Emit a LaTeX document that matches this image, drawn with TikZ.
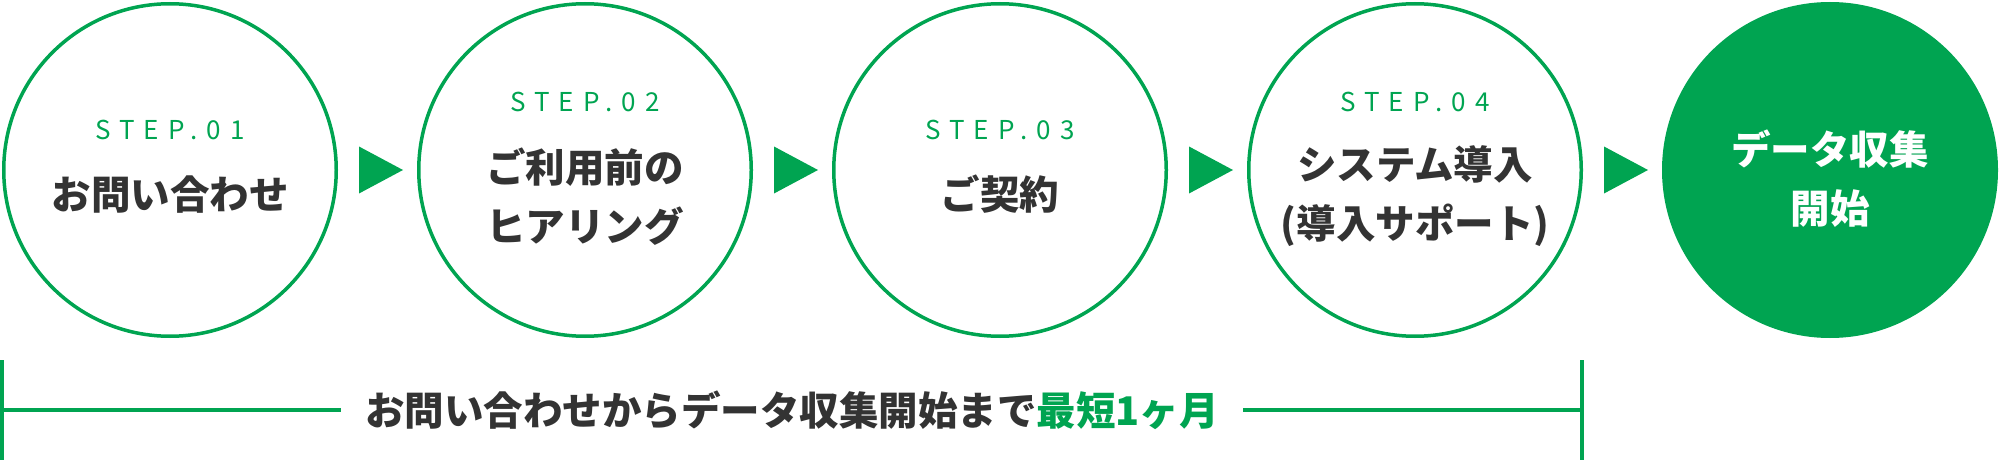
\documentclass[tikz,border=0pt]{standalone}
\usepackage{fontspec}
\setmainfont{Noto Sans CJK JP}
\newfontfamily\stepfont[LetterSpace=35]{Noto Sans CJK JP}
\usetikzlibrary{positioning}

\definecolor{stepgreen}{HTML}{00A451}
\definecolor{darktext}{HTML}{333333}

\begin{document}
\begin{tikzpicture}[x=0.5pt,y=-0.5pt,node distance=207.5pt,
  main node/.style={circle,draw=stepgreen,line width=1.75pt,minimum size=166.25pt,inner sep=0pt},
  goal node/.style={main node,fill=stepgreen},
  step label/.style={text=stepgreen,font=\stepfont\fontsize{13pt}{13pt}\selectfont,inner sep=0pt},
  step text/.style={text=darktext,font=\bfseries\fontsize{19.75pt}{29.5pt}\selectfont,align=center,inner sep=0pt},
  goal text/.style={step text,text=white},
  bracket/.style={draw=stepgreen,line width=1.75pt}]

  \useasboundingbox (0,0) rectangle (2002,460);

  \node[main node] (1) at (170,170) {};
  \node[main node] (2) [right of=1] {};
  \node[main node] (3) [right of=2] {};
  \node[main node] (4) [right of=3] {};
  \node[goal node] (5) [right of=4] {};

  % step labels and texts
  \node[step label,yshift=20.25pt] (s1) at (1) {STEP.01};
  \node[step text,yshift=-12.25pt] (t1) at (1) {お問い合わせ};
  \node[step label,yshift=34.25pt] (s2) at (2) {STEP.02};
  \node[step text,yshift=-13.25pt] (t2) at (2) {ご利用前の\\ヒアリング};
  \node[step label,yshift=20.25pt] (s3) at (3) {STEP.03};
  \node[step text,yshift=-12.25pt] (t3) at (3) {ご契約};
  \node[step label,yshift=34.25pt] (s4) at (4) {STEP.04};
  \node[step text,yshift=-13.25pt] (t4) at (4) {システム導入\\(導入サポート)};
  \node[goal text,yshift=-4.25pt] (t5) at (5) {データ収集\\開始};

  % arrows between the circles
  \foreach \a/\b in {1/2,2/3,3/4,4/5}{
    \path (\a) -- (\b) coordinate[midway] (m\a);
    \fill[stepgreen] (m\a) ++(-18.5,-23.5) -- ++(44,23.5) -- ++(-44,23.5) -- cycle;
  }

  % bracket
  \coordinate (bl) at (2,360);
  \coordinate (br) at (1582,360);
  \node[step text,font=\bfseries\fontsize{19.75pt}{19.75pt}\selectfont,inner xsep=12pt] (note) at (792,410)
    {お問い合わせからデータ収集開始まで\textcolor{stepgreen}{最短1ヶ月}};
  \draw[bracket] (bl) -- ++(0,100);
  \draw[bracket] (br) -- ++(0,100);
  \draw[bracket] (bl |- note) -- (note.west);
  \draw[bracket] (note.east) -- (br |- note);
\end{tikzpicture}
\end{document}
